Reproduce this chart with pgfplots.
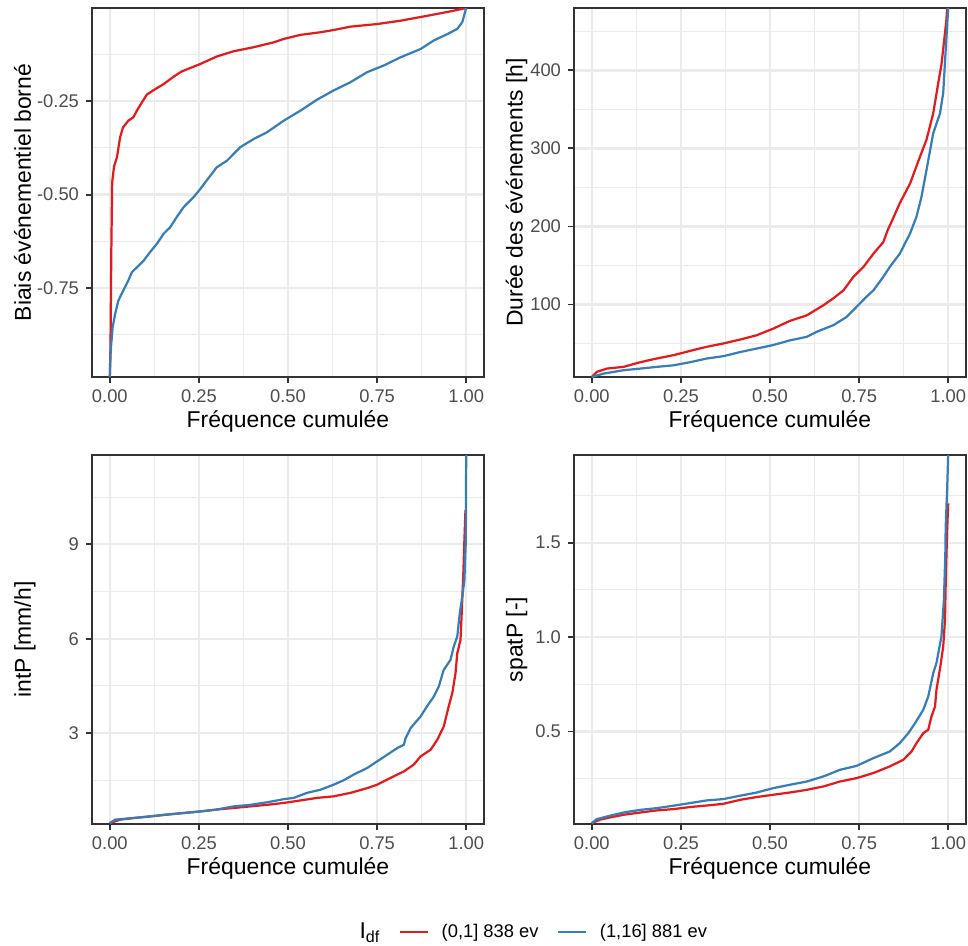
\documentclass[border=0pt]{standalone}
\usepackage{fontspec}
\setmainfont{Liberation Sans}
\usepackage{pgfplots}
\pgfplotsset{compat=1.18}
\definecolor{gridc}{HTML}{EBEBEB}
\definecolor{grey20}{HTML}{333333}
\definecolor{grey30}{HTML}{4D4D4D}
\definecolor{redS}{HTML}{E41A1C}
\definecolor{blueS}{HTML}{377EB8}
\pgfplotsset{
  ggp/.style={
    scale only axis, width=188.16pt, height=177.12pt, anchor=south west,
    xmin=-0.05, xmax=1.05,
    xtick={0,0.25,0.5,0.75,1}, xticklabels={0.00,0.25,0.50,0.75,1.00},
    minor xtick={0.125,0.375,0.625,0.875},
    grid=both,
    major grid style={color=gridc, line width=1.07pt},
    minor grid style={color=gridc, line width=0.53pt},
    axis line style={color=grey20, line width=0.9pt},
    tick align=outside, major tick length=2.75pt, minor tick length=0pt,
    every tick/.style={color=grey20, line width=0.9pt},
    xtick pos=bottom, ytick pos=left,
    /pgf/number format/assume math mode=true,
    ticklabel style={font=\fontsize{8.8}{10}\selectfont, color=grey30},
    label style={font=\fontsize{11}{13}\selectfont, color=black},
    xlabel={Fréquence cumulée},
    xlabel style={at={(axis description cs:0.5,-0.138)}, anchor=base, inner sep=0pt},
    every axis plot/.append style={no markers, line width=1.07pt, line join=round},
  }
}
\begin{document}
\begin{tikzpicture}
\useasboundingbox (0,0) rectangle (464.64pt,-453.6pt);
% Panel 1
\begin{axis}[ggp, at={(44.16pt,-180.96pt)},
  ymin=-0.989, ymax=0.0,
  ytick={-0.75,-0.5,-0.25}, yticklabels={-0.75,-0.50,-0.25},
  minor ytick={-0.875,-0.625,-0.375,-0.125},
  ylabel={Biais événementiel borné},
  ylabel style={at={(axis description cs:-0.156,0.5)}, anchor=base, inner sep=0pt}]
\addplot[redS] coordinates {(0,-0.989) (0.002,-0.9) (0.004,-0.668) (0.0066,-0.467) (0.012,-0.424) (0.020,-0.40) (0.029,-0.346) (0.037,-0.32) (0.052,-0.302) (0.066,-0.293) (0.076,-0.275) (0.090,-0.253) (0.104,-0.232) (0.123,-0.22) (0.151,-0.204) (0.179,-0.184) (0.202,-0.17) (0.254,-0.15) (0.30,-0.13) (0.347,-0.116) (0.404,-0.105) (0.46,-0.092) (0.488,-0.083) (0.535,-0.072) (0.591,-0.065) (0.628,-0.059) (0.675,-0.05) (0.75,-0.043) (0.816,-0.034) (0.89,-0.021) (0.956,-0.009) (1.0,0.0)};
\addplot[blueS] coordinates {(0,-0.989) (0.002,-0.93) (0.004,-0.90) (0.008,-0.855) (0.015,-0.82) (0.024,-0.784) (0.038,-0.757) (0.052,-0.73) (0.062,-0.708) (0.076,-0.695) (0.095,-0.677) (0.113,-0.654) (0.132,-0.632) (0.151,-0.605) (0.169,-0.588) (0.188,-0.56) (0.207,-0.534) (0.235,-0.507) (0.254,-0.485) (0.272,-0.462) (0.30,-0.427) (0.329,-0.409) (0.366,-0.373) (0.404,-0.351) (0.441,-0.333) (0.488,-0.302) (0.535,-0.275) (0.581,-0.246) (0.628,-0.221) (0.675,-0.199) (0.722,-0.172) (0.769,-0.154) (0.816,-0.132) (0.872,-0.11) (0.909,-0.087) (0.947,-0.07) (0.975,-0.056) (0.989,-0.038) (0.998,-0.007) (1.0,0.0)};
\end{axis}
% Panel 2
\begin{axis}[ggp, at={(275.52pt,-180.96pt)},
  ymin=7, ymax=480,
  ytick={100,200,300,400},
  minor ytick={50,150,250,350,450},
  ylabel={Durée des événements [h]},
  ylabel style={at={(axis description cs:-0.131,0.5)}, anchor=base, inner sep=0pt}]
\addplot[redS] coordinates {(0,7) (0.014,13.6) (0.042,17.8) (0.089,20) (0.136,26) (0.182,30.7) (0.229,35) (0.276,40.5) (0.322,45.7) (0.369,50) (0.416,55) (0.463,60.6) (0.509,69) (0.556,79) (0.603,86) (0.65,99) (0.678,108) (0.706,118) (0.734,135.5) (0.762,148) (0.79,165) (0.818,180) (0.83,195) (0.845,210) (0.864,229.7) (0.893,255) (0.921,289.6) (0.939,311) (0.958,345) (0.972,383.7) (0.981,407) (0.991,448) (0.995,465) (0.997,480)};
\addplot[blueS] coordinates {(0,7) (0.033,11.4) (0.089,15.7) (0.136,17.8) (0.182,20) (0.229,22) (0.276,26) (0.322,30.7) (0.369,33.7) (0.416,39) (0.463,43.5) (0.509,48) (0.556,54) (0.603,58.5) (0.631,65) (0.678,73.5) (0.715,84) (0.743,97) (0.771,110) (0.79,118) (0.818,135.5) (0.836,148) (0.864,165) (0.893,191) (0.911,212.5) (0.925,238) (0.939,272) (0.958,319.5) (0.977,345) (0.986,371) (0.993,426.5) (0.998,465) (1.0,480)};
\end{axis}
% Panel 3
\begin{axis}[ggp, at={(44.16pt,-395.52pt)},
  ymin=0.11, ymax=11.84,
  ytick={3,6,9},
  minor ytick={1.5,4.5,7.5,10.5},
  ylabel={intP [mm/h]},
  ylabel style={at={(axis description cs:-0.156,0.5)}, anchor=base, inner sep=0pt},
  legend columns=3,
  legend style={at={(axis description cs:1.115,-0.293)}, anchor=center, draw=none, fill=none,
    font=\fontsize{8.8}{10}\selectfont,
    /tikz/every odd column/.append style={column sep=4pt},
    /tikz/every even column/.append style={column sep=7pt}},
  legend image code/.code={\draw[#1] (0pt,0pt) -- (13.4pt,0pt);}]
\addlegendimage{empty legend}
\addlegendentry{\fontsize{11}{13}\selectfont I\textsubscript{df}}
\addplot[redS] coordinates {(0,0.14) (0.029,0.25) (0.066,0.30) (0.113,0.35) (0.16,0.41) (0.207,0.46) (0.254,0.51) (0.30,0.57) (0.347,0.62) (0.394,0.67) (0.441,0.72) (0.488,0.78) (0.535,0.86) (0.581,0.94) (0.628,0.99) (0.675,1.10) (0.722,1.25) (0.75,1.36) (0.778,1.52) (0.806,1.68) (0.825,1.78) (0.853,2.0) (0.872,2.26) (0.90,2.47) (0.919,2.79) (0.937,3.21) (0.951,3.85) (0.961,4.27) (0.97,4.9) (0.975,5.54) (0.984,5.96) (0.987,6.7) (0.992,8.08) (0.995,9.14) (0.998,10.09)};
\addlegendentry{(0,1] 838 ev}
\addplot[blueS] coordinates {(0,0.14) (0.015,0.25) (0.066,0.30) (0.16,0.41) (0.254,0.51) (0.30,0.57) (0.347,0.67) (0.394,0.72) (0.441,0.80) (0.488,0.90) (0.516,0.94) (0.553,1.10) (0.591,1.2) (0.628,1.36) (0.656,1.5) (0.684,1.68) (0.722,1.89) (0.75,2.1) (0.778,2.31) (0.806,2.52) (0.825,2.63) (0.83,2.84) (0.844,3.16) (0.872,3.53) (0.89,3.85) (0.909,4.16) (0.923,4.48) (0.937,5.01) (0.956,5.33) (0.965,5.75) (0.975,6.07) (0.982,6.81) (0.989,7.34) (0.995,7.87) (0.999,9.14) (1.0,11.84)};
\addlegendentry{(1,16] 881 ev}
\end{axis}
% Panel 4
\begin{axis}[ggp, at={(275.52pt,-395.52pt)},
  ymin=0.01, ymax=1.964,
  ytick={0.5,1,1.5}, yticklabels={0.5,1.0,1.5},
  minor ytick={0.25,0.75,1.25,1.75},
  ylabel={spatP [-]},
  ylabel style={at={(axis description cs:-0.131,0.5)}, anchor=base, inner sep=0pt}]
\addplot[redS] coordinates {(0,0.015) (0.023,0.033) (0.051,0.045) (0.089,0.059) (0.136,0.071) (0.182,0.082) (0.229,0.089) (0.276,0.10) (0.322,0.108) (0.369,0.117) (0.416,0.138) (0.463,0.153) (0.509,0.165) (0.556,0.177) (0.603,0.191) (0.65,0.209) (0.696,0.235) (0.743,0.253) (0.79,0.28) (0.836,0.315) (0.874,0.35) (0.897,0.394) (0.911,0.438) (0.93,0.491) (0.944,0.509) (0.953,0.579) (0.963,0.632) (0.967,0.72) (0.978,0.844) (0.986,0.95) (0.991,1.09) (0.993,1.285) (0.997,1.567) (1.0,1.708)};
\addplot[blueS] coordinates {(0,0.015) (0.014,0.036) (0.051,0.054) (0.089,0.071) (0.136,0.085) (0.182,0.094) (0.229,0.107) (0.276,0.121) (0.322,0.135) (0.369,0.142) (0.416,0.16) (0.463,0.177) (0.509,0.20) (0.556,0.218) (0.603,0.235) (0.65,0.262) (0.696,0.297) (0.743,0.318) (0.79,0.359) (0.836,0.394) (0.864,0.438) (0.888,0.491) (0.907,0.544) (0.93,0.615) (0.944,0.685) (0.958,0.809) (0.967,0.862) (0.981,1.003) (0.988,1.197) (0.992,1.444) (0.993,1.585) (0.997,1.779) (1.0,1.964)};
\end{axis}
\end{tikzpicture}
\end{document}
